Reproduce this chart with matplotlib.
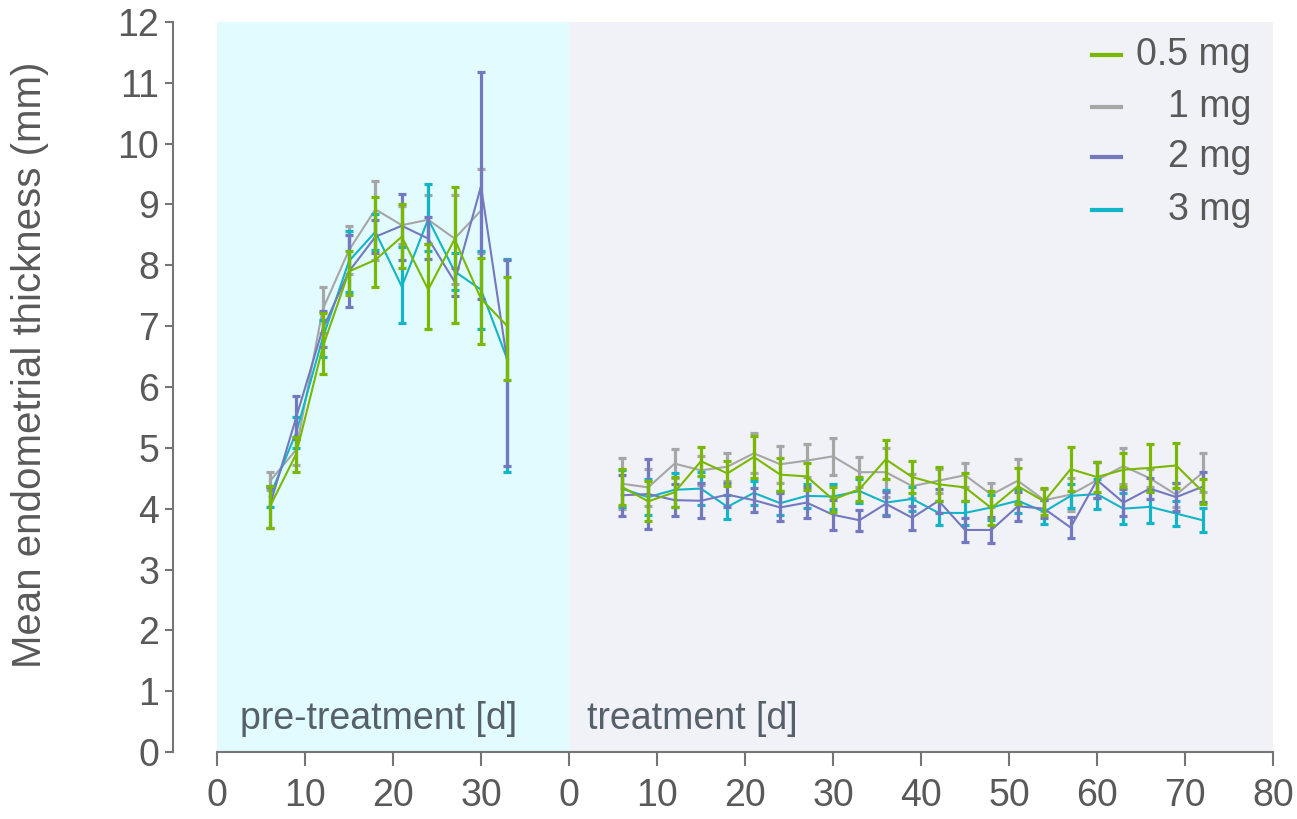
import numpy as np
import matplotlib
matplotlib.use("Agg")
import matplotlib.pyplot as plt
from matplotlib.lines import Line2D

plt.rcParams['font.family'] = ['Liberation Sans', 'DejaVu Sans']

# ---------------- data ----------------
series_labels = ["0.5 mg", "1 mg", "2 mg", "3 mg"]
series_colors = ["#7AB800", "#A6A6A6", "#7378BF", "#12B5C6"]

pre_days = [6, 9, 12, 15, 18, 21, 24, 27, 30, 33]
pre_mean_05 = [4.03, 4.90, 6.65, 7.90, 8.09, 8.47, 7.60, 8.43, 7.45, 7.00]
pre_low_05 = [3.68, 4.61, 6.21, 7.52, 7.65, 7.96, 6.95, 7.06, 6.71, 6.12]
pre_high_05 = [4.38, 5.18, 7.21, 8.24, 9.13, 9.00, 8.35, 9.28, 8.12, 7.80]

pre_mean_1 = [4.45, 4.97, 7.27, 8.25, 8.92, 8.66, 8.75, 8.44, 8.90, np.nan]
pre_low_1 = [4.30, 4.71, 6.88, 7.85, 8.08, 8.35, 8.35, 7.69, 8.21, np.nan]
pre_high_1 = [4.61, 5.18, 7.65, 8.65, 9.39, 8.97, 9.16, 9.16, 9.59, np.nan]

pre_mean_2 = [4.05, 5.50, 6.95, 7.90, 8.47, 8.65, 8.44, 7.73, 9.30, 6.40]
pre_low_2 = [3.69, 5.15, 6.65, 7.31, 8.20, 8.09, 8.10, 7.50, 7.45, 4.70]
pre_high_2 = [4.35, 5.85, 7.25, 8.50, 8.75, 9.17, 8.80, 7.95, 11.17, 8.08]

pre_mean_3 = [4.20, 5.25, 6.80, 8.07, 8.55, 7.65, 8.76, 7.90, 7.60, 6.45]
pre_low_3 = [4.02, 5.00, 6.50, 7.56, 8.25, 7.06, 8.23, 7.60, 6.95, 4.61]
pre_high_3 = [4.37, 5.50, 7.10, 8.57, 8.85, 8.30, 9.33, 8.20, 8.23, 8.10]

trt_days = [6, 9, 12, 15, 18, 21, 24, 27, 30, 33, 36, 39, 42, 45, 48, 51,
            54, 57, 60, 63, 66, 69, 72]
trt_mean_05 = [4.36, 4.12, 4.27, 4.78, 4.58, 4.85, 4.56, 4.53, 4.15, 4.32, 4.81, 4.52,
               4.40, 4.35, 4.01, 4.37, 4.12, 4.65, 4.52, 4.64, 4.67, 4.71, 4.28]
trt_err_05 = [0.30, 0.33, 0.25, 0.24, 0.20, 0.34, 0.27, 0.22, 0.20, 0.20, 0.32, 0.27,
              0.28, 0.23, 0.28, 0.30, 0.22, 0.36, 0.25, 0.28, 0.40, 0.37, 0.20]
trt_mean_1 = [4.41, 4.35, 4.74, 4.63, 4.69, 4.91, 4.73, 4.79, 4.86, 4.60, 4.60, 4.37,
              4.46, 4.55, 4.23, 4.46, 4.14, 4.23, 4.47, 4.70, 4.50, 4.23, 4.59]
trt_err_1 = [0.42, 0.30, 0.24, 0.24, 0.23, 0.33, 0.30, 0.27, 0.30, 0.25, 0.40, 0.20,
             0.20, 0.20, 0.20, 0.35, 0.18, 0.27, 0.30, 0.30, 0.15, 0.20, 0.32]
trt_mean_2 = [4.22, 4.24, 4.14, 4.13, 4.23, 4.14, 4.02, 4.10, 3.90, 3.81, 4.08, 3.85,
              4.13, 3.65, 3.65, 4.04, 4.00, 3.69, 4.47, 4.10, 4.33, 4.19, 4.36]
trt_err_2 = [0.34, 0.58, 0.26, 0.29, 0.20, 0.20, 0.23, 0.25, 0.25, 0.17, 0.20, 0.20,
             0.20, 0.20, 0.21, 0.24, 0.15, 0.18, 0.30, 0.22, 0.17, 0.23, 0.25]
trt_mean_3 = [4.33, 4.19, 4.31, 4.33, 4.03, 4.26, 4.09, 4.21, 4.20, 4.29, 4.10, 4.16,
              3.93, 3.93, 4.02, 4.13, 3.95, 4.21, 4.24, 4.00, 4.03, 3.92, 3.81]
trt_err_3 = [0.31, 0.30, 0.28, 0.27, 0.20, 0.20, 0.20, 0.20, 0.20, 0.20, 0.20, 0.20,
             0.20, 0.20, 0.20, 0.20, 0.20, 0.20, 0.25, 0.25, 0.26, 0.20, 0.20]

pre_ticks = [0, 10, 20, 30]
trt_ticks = [0, 10, 20, 30, 40, 50, 60, 70, 80]
y_ticks = list(range(0, 13))
pre_length = 40  # pre-treatment panel spans 40 days on the shared axis

pre_means = [pre_mean_05, pre_mean_1, pre_mean_2, pre_mean_3]
pre_lows = [pre_low_05, pre_low_1, pre_low_2, pre_low_3]
pre_highs = [pre_high_05, pre_high_1, pre_high_2, pre_high_3]
trt_means = [trt_mean_05, trt_mean_1, trt_mean_2, trt_mean_3]
trt_errs = [trt_err_05, trt_err_1, trt_err_2, trt_err_3]

# ---------------- figure ----------------
fig = plt.figure(figsize=(12.97, 8.19), dpi=100)
ax = fig.add_axes([173 / 1297, 67 / 819, 1100 / 1297, 730 / 819])

text_col = "#595959"
axis_col = "#757575"
fs = 27

ax.axvspan(-pre_length, 0, color="#E2FBFE", zorder=0, lw=0)
ax.axvspan(0, trt_ticks[-1], color="#F1F2F8", zorder=0, lw=0)

pre_x = np.array(pre_days) - pre_length
trt_x = np.array(trt_days)

order = [1, 3, 2, 0]
for z, i in enumerate(order):
    col = series_colors[i]
    m = np.array(pre_means[i], dtype=float)
    lo = m - np.array(pre_lows[i], dtype=float)
    hi = np.array(pre_highs[i], dtype=float) - m
    ax.errorbar(pre_x, m, yerr=[lo, hi], color=col, lw=1.5, elinewidth=2.3,
                capsize=3, capthick=2.3, zorder=3 + z)
    ax.errorbar(trt_x, trt_means[i], yerr=trt_errs[i], color=col, lw=1.5,
                elinewidth=2.3, capsize=3, capthick=2.3, zorder=3 + z)

ax.set_xlim(-pre_length - 5, trt_ticks[-1])
ax.set_ylim(0, 12)

tick_pos = [t - pre_length for t in pre_ticks] + trt_ticks
tick_lab = [str(t) for t in pre_ticks] + [str(t) for t in trt_ticks]
ax.set_xticks(tick_pos)
ax.set_xticklabels(tick_lab)
ax.set_yticks(y_ticks)
ax.set_yticklabels([str(t) for t in y_ticks])

for s in ["top", "right"]:
    ax.spines[s].set_visible(False)
ax.spines["left"].set_color(axis_col)
ax.spines["bottom"].set_color(axis_col)
ax.spines["left"].set_linewidth(1.5)
ax.spines["bottom"].set_linewidth(1.5)
ax.spines["bottom"].set_bounds(-pre_length, trt_ticks[-1])

ax.tick_params(axis="x", length=10, width=1.5, color=axis_col, labelsize=fs,
               labelcolor=text_col, pad=9)
ax.tick_params(axis="y", length=6, width=1.5, color=axis_col, labelsize=fs,
               labelcolor=text_col, pad=4)

ax.set_ylabel("Mean endometrial thickness (mm)", fontsize=29, color=text_col)
ax.yaxis.set_label_coords(-0.113, 0.53)

ax.text(-37.4, 0.55, "pre-treatment [d]", fontsize=fs, color="#56606A",
        va="center", ha="left", zorder=10)
ax.text(2.0, 0.55, "treatment [d]", fontsize=fs, color="#56606A",
        va="center", ha="left", zorder=10)

# legend (right-aligned labels)
leg_y = [0.955, 0.884, 0.815, 0.742]
for i, lab in enumerate(series_labels):
    ax.add_line(Line2D([0.835, 0.862], [leg_y[i], leg_y[i]], transform=ax.transAxes,
                       color=series_colors[i], lw=3, zorder=12))
    ax.text(0.98, leg_y[i], lab, transform=ax.transAxes, ha="right", va="center",
            fontsize=fs, color=text_col, zorder=12)

fig.savefig("out.png", dpi=100)
